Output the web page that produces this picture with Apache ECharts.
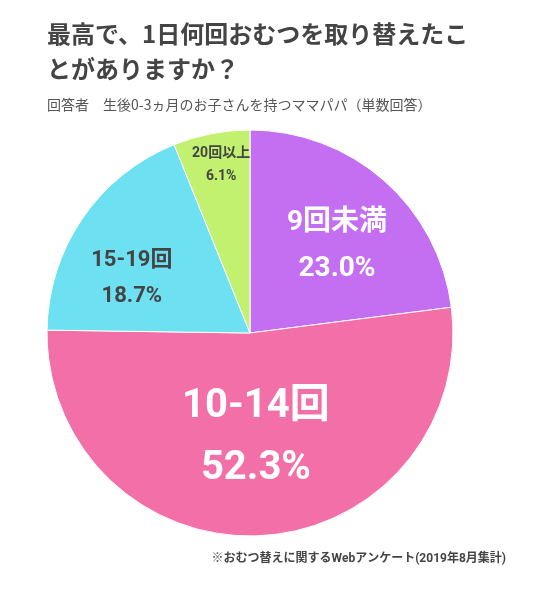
<!DOCTYPE html>
<html><head><meta charset="utf-8">
<script src="https://cdn.jsdelivr.net/npm/echarts@6/dist/echarts.min.js"></script>
<style>html,body{margin:0;padding:0;background:#fff}#c{width:557px;height:591px}</style>
</head><body><div id="c"></div>
<script>
const categories = ['9回未満', '10-14回', '15-19回', '20回以上'];
const values = [23.0, 52.3, 18.7, 6.1];
const valueLabels = ['23.0%', '52.3%', '18.7%', '6.1%'];

const colors = ['#c46ff1', '#f26fa7', '#6de1f1', '#c1f16f'];
const labelStyles = [
  {fontSize: 28, lineHeight: 46, color: '#fff', offset: [18, -9]},
  {fontSize: 40, lineHeight: 62, color: '#fff', offset: [0, 1]},
  {fontSize: 22, lineHeight: 36, color: '#444', offset: [-32, 5]},
  {fontSize: 14, lineHeight: 23, color: '#444', offset: [-9, -65]}
];
const FONT = "Roboto, 'Noto Sans CJK JP', sans-serif";
const data = categories.map((c, i) => ({
  name: c, value: values[i],
  itemStyle: {color: colors[i]},
  label: {
    formatter: c + '\n' + valueLabels[i],
    fontSize: labelStyles[i].fontSize, lineHeight: labelStyles[i].lineHeight,
    color: labelStyles[i].color, offset: labelStyles[i].offset
  }
}));
const chart = echarts.init(document.getElementById('c'));
chart.setOption({
  animation: false,
  title: [{
    text: '最高で、1日何回おむつを取り替えたこ\nとがありますか？',
    left: 47, top: 16, padding: 0,
    textStyle: {fontFamily: "'Noto Sans CJK JP', sans-serif", fontSize: 24, fontWeight: 'bold', color: '#444', lineHeight: 35}
  }, {
    text: '回答者　生後0-3ヵ月のお子さんを持つママパパ（単数回答）',
    left: 47, top: 98, padding: 0,
    textStyle: {fontFamily: "'Noto Sans CJK JP', sans-serif", fontSize: 14, fontWeight: 'normal', color: '#555'}
  }, {
    text: '※おむつ替えに関するWebアンケート(2019年8月集計)',
    right: 51, top: 553, padding: 0,
    textStyle: {fontFamily: FONT, fontSize: 12, fontWeight: 'bold', color: '#444'}
  }],
  series: [{
    type: 'pie',
    center: [250, 333],
    radius: 203,
    startAngle: 90,
    clockwise: true,
    itemStyle: {borderColor: '#fff', borderWidth: 1},
    label: {show: true, position: 'inside', fontFamily: FONT, fontWeight: 'bold'},
    labelLine: {show: false},
    emphasis: {disabled: true},
    data: data
  }]
});
</script></body></html>
